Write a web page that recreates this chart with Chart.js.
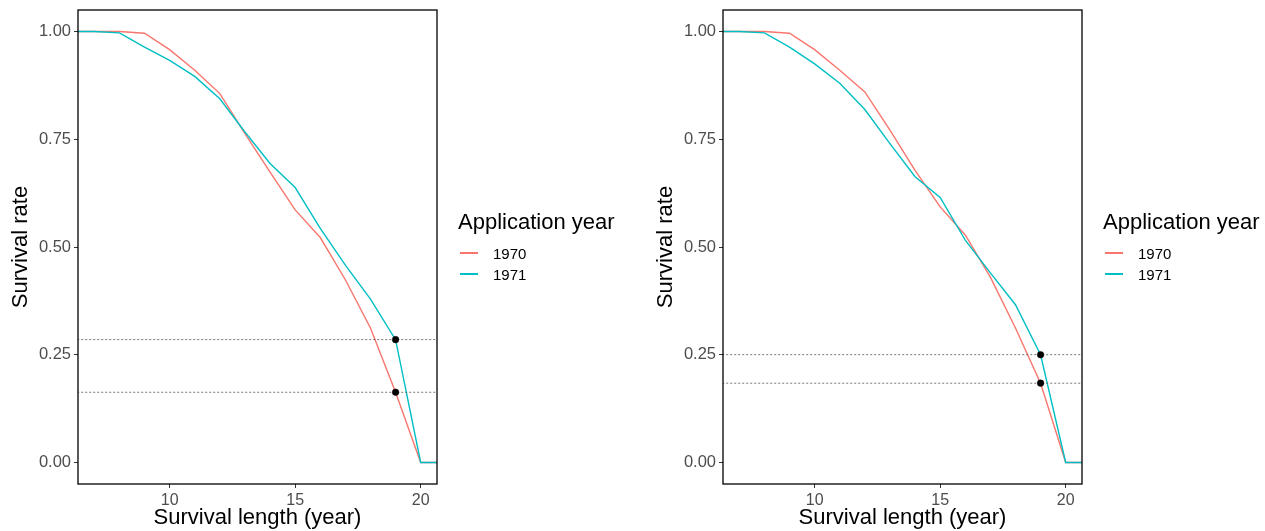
<!DOCTYPE html>
<html>
<head>
<meta charset="utf-8">
<script src="https://cdn.jsdelivr.net/npm/chart.js@4.4.0/dist/chart.umd.min.js"></script>
<style>
  html, body { margin:0; padding:0; background:#fff; }
  body { width:1265px; height:531px; overflow:hidden; position:relative; font-family:"Liberation Sans", Arial, sans-serif; }
  .panel { position:absolute; top:0; width:620px; height:531px; }
  .panel canvas { position:absolute; left:0; top:0; }
  .lg-title { position:absolute; left:458px; top:211px; font-size:22px; line-height:22px; color:#000; white-space:nowrap; }
  .lg-item { position:absolute; left:493px; font-size:15px; line-height:15px; color:#000; white-space:nowrap; }
  .lg-key { position:absolute; left:460px; width:18px; height:2px; }
</style>
</head>
<body>
<div class="panel" id="p1" style="left:0px">
  <canvas id="c1" width="620" height="531"></canvas>
</div>
<div class="panel" id="p2" style="left:645px">
  <canvas id="c2" width="620" height="531"></canvas>
</div>
<script>
// ---------- data ----------
const years = [6, 7, 8, 9, 10, 11, 12, 13, 14, 15, 16, 17, 18, 19, 20, 21];
const left1970  = [1, 1, 1, 0.996, 0.958, 0.910, 0.856, 0.763, 0.674, 0.586, 0.522, 0.424, 0.312, 0.163, 0, 0];
const left1971  = [1, 1, 0.997, 0.964, 0.933, 0.896, 0.844, 0.767, 0.694, 0.638, 0.543, 0.458, 0.379, 0.285, 0, 0];
const right1970 = [1, 1, 1, 0.996, 0.958, 0.910, 0.860, 0.771, 0.678, 0.593, 0.528, 0.430, 0.312, 0.184, 0, 0];
const right1971 = [1, 1, 0.997, 0.964, 0.925, 0.880, 0.819, 0.740, 0.663, 0.615, 0.516, 0.440, 0.366, 0.250, 0, 0];
const leftMarks  = [0.285, 0.163];
const rightMarks = [0.250, 0.184];
const markYear = 19;
const seriesNames = ['1970', '1971'];
const xTicks = [10, 15, 20];
const yTicks = [0, 0.25, 0.5, 0.75, 1];
const legendTitle = 'Application year';
const xTitle = 'Survival length (year)';
const yTitle = 'Survival rate';

// ---------- style ----------
const FAMILY = '"Liberation Sans", Arial, sans-serif';
const COLORS = ['#F8766D', '#00BFC4'];

const boxPlugin = {
  id: 'panelBox',
  afterDraw(chart) {
    const a = chart.chartArea, ctx = chart.ctx;
    ctx.save();
    ctx.strokeStyle = '#000';
    ctx.lineWidth = 1.3;
    ctx.strokeRect(a.left, a.top, a.right - a.left, a.bottom - a.top);
    ctx.restore();
  }
};

function makeChart(id, s70, s71, marks) {
  const lineSets = [s70, s71].map((s, k) => ({
    label: seriesNames[k],
    data: years.map((x, i) => ({ x: x, y: s[i] })),
    borderColor: COLORS[k],
    backgroundColor: COLORS[k],
    borderWidth: 1.4,
    pointRadius: 0,
    tension: 0,
    fill: false,
    order: 4 - k
  }));
  const hlines = marks.map(m => ({
    label: 'h',
    data: [{ x: years[0], y: m }, { x: years[years.length - 1], y: m }],
    borderColor: '#555',
    backgroundColor: '#555',
    borderWidth: 0.8,
    borderDash: [2, 2],
    pointRadius: 0,
    fill: false,
    order: 2
  }));
  const dots = {
    label: 'pts',
    data: marks.map(m => ({ x: markYear, y: m })),
    showLine: false,
    borderColor: '#000',
    backgroundColor: '#000',
    pointRadius: 3.3,
    pointBackgroundColor: '#000',
    pointBorderColor: '#000',
    pointBorderWidth: 0.5,
    order: 1
  };
  new Chart(document.getElementById(id), {
    type: 'line',
    data: { datasets: [...lineSets, ...hlines, dots] },
    options: {
      responsive: false,
      animation: false,
      devicePixelRatio: 1,
      events: [],
      layout: { padding: { left: 0, right: 183, top: 10, bottom: 0 } },
      plugins: { legend: { display: false }, tooltip: { enabled: false } },
      scales: {
        x: {
          type: 'linear', min: 6.35, max: 20.65,
          afterBuildTicks: s => { s.ticks = xTicks.map(v => ({ value: v })); },
          afterFit: s => { s.height = 47; s.paddingLeft = 0; s.paddingRight = 0; },
          grid: { display: true, drawOnChartArea: false, drawTicks: true, tickLength: 4, tickColor: '#333', tickWidth: 1 },
          border: { display: false },
          ticks: { color: '#4D4D4D', font: { size: 16, family: FAMILY }, padding: 3, maxRotation: 0, autoSkip: false },
          title: { display: true, text: xTitle, color: '#000', font: { size: 22, family: FAMILY }, padding: { top: 0, bottom: 0 } }
        },
        y: {
          type: 'linear', min: -0.05, max: 1.05,
          afterBuildTicks: s => { s.ticks = yTicks.map(v => ({ value: v })); },
          afterFit: s => { s.width = 78; s.paddingTop = 0; s.paddingBottom = 0; },
          grid: { display: true, drawOnChartArea: false, drawTicks: true, tickLength: 4, tickColor: '#333', tickWidth: 1 },
          border: { display: false },
          ticks: { color: '#4D4D4D', font: { size: 16.5, family: FAMILY }, padding: 3, autoSkip: false,
                   callback: v => Number(v).toFixed(2) },
          title: { display: true, text: yTitle, color: '#000', font: { size: 22, family: FAMILY }, padding: { top: 8, bottom: 0 } }
        }
      }
    },
    plugins: [boxPlugin]
  });
}

function makeLegend(panelId) {
  const p = document.getElementById(panelId);
  const t = document.createElement('div');
  t.className = 'lg-title';
  t.textContent = legendTitle;
  p.appendChild(t);
  seriesNames.forEach((name, k) => {
    const key = document.createElement('div');
    key.className = 'lg-key';
    key.style.top = (252 + 21 * k) + 'px';
    key.style.background = COLORS[k];
    p.appendChild(key);
    const it = document.createElement('div');
    it.className = 'lg-item';
    it.style.top = (246 + 21 * k) + 'px';
    it.textContent = name;
    p.appendChild(it);
  });
}

makeChart('c1', left1970, left1971, leftMarks);
makeChart('c2', right1970, right1971, rightMarks);
makeLegend('p1');
makeLegend('p2');
</script>
</body>
</html>
